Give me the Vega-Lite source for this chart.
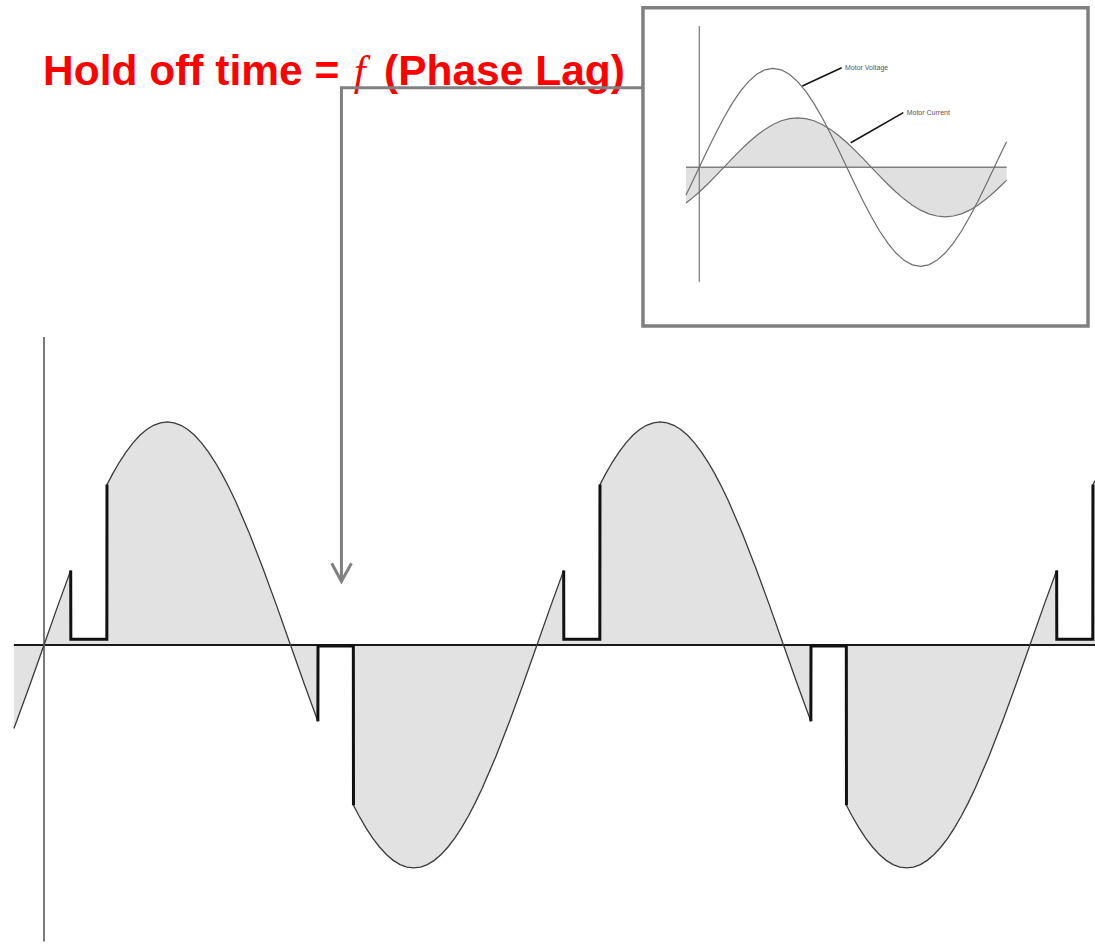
{
  "$schema": "https://vega.github.io/schema/vega-lite/v6.json",
  "width": 1095,
  "height": 948,
  "autosize": {"type": "none"},
  "padding": 0,
  "background": "white",
  "config": {"view": {"stroke": null}},
  "datasets": {
    "wave": [
      {"t":-22,"v":-0.375},{"t":-20,"v":-0.342},{"t":-10,"v":-0.174},{"t":0,"v":0},{"t":10,"v":0.174},{"t":19.5,"v":0.334},{"t":19.6,"v":0.025},{"t":45.9,"v":0.025},{"t":46,"v":0.719},{"t":50,"v":0.766},{"t":55,"v":0.819},{"t":60,"v":0.866},{"t":65,"v":0.906},{"t":70,"v":0.94},{"t":75,"v":0.966},{"t":80,"v":0.985},{"t":85,"v":0.996},{"t":90,"v":1},{"t":95,"v":0.996},{"t":100,"v":0.985},{"t":105,"v":0.966},{"t":110,"v":0.94},{"t":115,"v":0.906},{"t":120,"v":0.866},{"t":125,"v":0.819},{"t":130,"v":0.766},{"t":135,"v":0.707},{"t":140,"v":0.643},{"t":150,"v":0.5},{"t":160,"v":0.342},{"t":170,"v":0.174},{"t":180,"v":0},{"t":190,"v":-0.174},{"t":200,"v":-0.342},{"t":200.1,"v":-0.005},{"t":225.9,"v":-0.005},{"t":226,"v":-0.719},{"t":230,"v":-0.766},{"t":235,"v":-0.819},{"t":240,"v":-0.866},{"t":245,"v":-0.906},{"t":250,"v":-0.94},{"t":255,"v":-0.966},{"t":260,"v":-0.985},{"t":265,"v":-0.996},{"t":270,"v":-1},{"t":275,"v":-0.996},{"t":280,"v":-0.985},{"t":285,"v":-0.966},{"t":290,"v":-0.94},{"t":295,"v":-0.906},{"t":300,"v":-0.866},{"t":305,"v":-0.819},{"t":310,"v":-0.766},{"t":315,"v":-0.707},{"t":320,"v":-0.643},{"t":330,"v":-0.5},{"t":340,"v":-0.342},{"t":350,"v":-0.174},{"t":360,"v":0},{"t":370,"v":0.174},{"t":379.5,"v":0.334},{"t":379.6,"v":0.025},{"t":405.9,"v":0.025},{"t":406,"v":0.719},{"t":410,"v":0.766},{"t":415,"v":0.819},{"t":420,"v":0.866},{"t":425,"v":0.906},{"t":430,"v":0.94},{"t":435,"v":0.966},{"t":440,"v":0.985},{"t":445,"v":0.996},{"t":450,"v":1},{"t":455,"v":0.996},{"t":460,"v":0.985},{"t":465,"v":0.966},{"t":470,"v":0.94},{"t":475,"v":0.906},{"t":480,"v":0.866},{"t":485,"v":0.819},{"t":490,"v":0.766},{"t":495,"v":0.707},{"t":500,"v":0.643},{"t":510,"v":0.5},{"t":520,"v":0.342},{"t":530,"v":0.174},{"t":540,"v":0},{"t":550,"v":-0.174},{"t":560,"v":-0.342},{"t":560.1,"v":-0.005},{"t":585.9,"v":-0.005},{"t":586,"v":-0.719},{"t":590,"v":-0.766},{"t":595,"v":-0.819},{"t":600,"v":-0.866},{"t":605,"v":-0.906},{"t":610,"v":-0.94},{"t":615,"v":-0.966},{"t":620,"v":-0.985},{"t":625,"v":-0.996},{"t":630,"v":-1},{"t":635,"v":-0.996},{"t":640,"v":-0.985},{"t":645,"v":-0.966},{"t":650,"v":-0.94},{"t":655,"v":-0.906},{"t":660,"v":-0.866},{"t":665,"v":-0.819},{"t":670,"v":-0.766},{"t":675,"v":-0.707},{"t":680,"v":-0.643},{"t":690,"v":-0.5},{"t":700,"v":-0.342},{"t":710,"v":-0.174},{"t":720,"v":0},{"t":730,"v":0.174},{"t":739.5,"v":0.334},{"t":739.6,"v":0.025},{"t":765.9,"v":0.025},{"t":766,"v":0.719},{"t":767.5,"v":0.737}
    ],
    "notch": [
      {"t":19.5,"v":0.334,"n":"A"},{"t":19.6,"v":0.025,"n":"A"},{"t":45.9,"v":0.025,"n":"A"},{"t":46,"v":0.719,"n":"A"},
      {"t":200,"v":-0.342,"n":"B"},{"t":200.1,"v":-0.005,"n":"B"},{"t":225.9,"v":-0.005,"n":"B"},{"t":226,"v":-0.719,"n":"B"},
      {"t":379.5,"v":0.334,"n":"C"},{"t":379.6,"v":0.025,"n":"C"},{"t":405.9,"v":0.025,"n":"C"},{"t":406,"v":0.719,"n":"C"},
      {"t":560,"v":-0.342,"n":"D"},{"t":560.1,"v":-0.005,"n":"D"},{"t":585.9,"v":-0.005,"n":"D"},{"t":586,"v":-0.719,"n":"D"},
      {"t":739.5,"v":0.334,"n":"E"},{"t":739.6,"v":0.025,"n":"E"},{"t":765.9,"v":0.025,"n":"E"},{"t":766,"v":0.719,"n":"E"}
    ],
    "inset": [
      {"phi":-16.2,"w":-0.279,"s":"volt"},{"phi":-10,"w":-0.174,"s":"volt"},{"phi":0,"w":0,"s":"volt"},{"phi":10,"w":0.174,"s":"volt"},{"phi":20,"w":0.342,"s":"volt"},{"phi":30,"w":0.5,"s":"volt"},{"phi":40,"w":0.643,"s":"volt"},{"phi":50,"w":0.766,"s":"volt"},{"phi":60,"w":0.866,"s":"volt"},{"phi":70,"w":0.94,"s":"volt"},{"phi":80,"w":0.985,"s":"volt"},{"phi":90,"w":1,"s":"volt"},{"phi":100,"w":0.985,"s":"volt"},{"phi":110,"w":0.94,"s":"volt"},{"phi":120,"w":0.866,"s":"volt"},{"phi":130,"w":0.766,"s":"volt"},{"phi":140,"w":0.643,"s":"volt"},{"phi":150,"w":0.5,"s":"volt"},{"phi":160,"w":0.342,"s":"volt"},{"phi":170,"w":0.174,"s":"volt"},{"phi":180,"w":0,"s":"volt"},{"phi":190,"w":-0.174,"s":"volt"},{"phi":200,"w":-0.342,"s":"volt"},{"phi":210,"w":-0.5,"s":"volt"},{"phi":220,"w":-0.643,"s":"volt"},{"phi":230,"w":-0.766,"s":"volt"},{"phi":240,"w":-0.866,"s":"volt"},{"phi":250,"w":-0.94,"s":"volt"},{"phi":260,"w":-0.985,"s":"volt"},{"phi":270,"w":-1,"s":"volt"},{"phi":280,"w":-0.985,"s":"volt"},{"phi":290,"w":-0.94,"s":"volt"},{"phi":300,"w":-0.866,"s":"volt"},{"phi":310,"w":-0.766,"s":"volt"},{"phi":320,"w":-0.643,"s":"volt"},{"phi":330,"w":-0.5,"s":"volt"},{"phi":340,"w":-0.342,"s":"volt"},{"phi":350,"w":-0.174,"s":"volt"},{"phi":360,"w":0,"s":"volt"},{"phi":370,"w":0.174,"s":"volt"},{"phi":375.1,"w":0.259,"s":"volt"},
      {"phi":-16.2,"w":-0.361,"s":"cur"},{"phi":-10,"w":-0.321,"s":"cur"},{"phi":0,"w":-0.25,"s":"cur"},{"phi":10,"w":-0.171,"s":"cur"},{"phi":20,"w":-0.087,"s":"cur"},{"phi":30,"w":0,"s":"cur"},{"phi":40,"w":0.087,"s":"cur"},{"phi":50,"w":0.171,"s":"cur"},{"phi":60,"w":0.25,"s":"cur"},{"phi":70,"w":0.321,"s":"cur"},{"phi":80,"w":0.383,"s":"cur"},{"phi":90,"w":0.433,"s":"cur"},{"phi":100,"w":0.47,"s":"cur"},{"phi":110,"w":0.492,"s":"cur"},{"phi":120,"w":0.5,"s":"cur"},{"phi":130,"w":0.492,"s":"cur"},{"phi":140,"w":0.47,"s":"cur"},{"phi":150,"w":0.433,"s":"cur"},{"phi":160,"w":0.383,"s":"cur"},{"phi":170,"w":0.321,"s":"cur"},{"phi":180,"w":0.25,"s":"cur"},{"phi":190,"w":0.171,"s":"cur"},{"phi":200,"w":0.087,"s":"cur"},{"phi":210,"w":0,"s":"cur"},{"phi":220,"w":-0.087,"s":"cur"},{"phi":230,"w":-0.171,"s":"cur"},{"phi":240,"w":-0.25,"s":"cur"},{"phi":250,"w":-0.321,"s":"cur"},{"phi":260,"w":-0.383,"s":"cur"},{"phi":270,"w":-0.433,"s":"cur"},{"phi":280,"w":-0.47,"s":"cur"},{"phi":290,"w":-0.492,"s":"cur"},{"phi":300,"w":-0.5,"s":"cur"},{"phi":310,"w":-0.492,"s":"cur"},{"phi":320,"w":-0.47,"s":"cur"},{"phi":330,"w":-0.433,"s":"cur"},{"phi":340,"w":-0.383,"s":"cur"},{"phi":350,"w":-0.321,"s":"cur"},{"phi":360,"w":-0.25,"s":"cur"},{"phi":370,"w":-0.171,"s":"cur"},{"phi":375.1,"w":-0.129,"s":"cur"}
    ]
  },
  "layer": [
    {
      "encoding": {
        "x": {"field": "t", "type": "quantitative", "scale": {"domain": [-32.13, 767.5], "nice": false, "zero": false}, "axis": null},
        "y": {"field": "v", "type": "quantitative", "scale": {"domain": [-1.359, 2.892], "nice": false, "zero": false}, "axis": null}
      },
      "layer": [
        {
          "data": {"name": "wave"},
          "mark": {"type": "area", "color": "#e2e2e2", "interpolate": "linear"},
          "encoding": {"y2": {"datum": 0}}
        },
        {
          "data": {"values": [{"t": -22, "t2": 767.5, "v": 0, "v2": 0}]},
          "mark": {"type": "rule", "color": "#1a1a1a", "strokeWidth": 2},
          "encoding": {"x2": {"field": "t2"}, "y2": {"field": "v2"}}
        },
        {
          "data": {"values": [{"t": 0, "t2": 0, "v": 1.381, "v2": -1.33}]},
          "mark": {"type": "rule", "color": "#7a7a7a", "strokeWidth": 2},
          "encoding": {"x2": {"field": "t2"}, "y2": {"field": "v2"}}
        },
        {
          "data": {"name": "wave"},
          "mark": {"type": "line", "color": "#3a3a3a", "strokeWidth": 1.3, "interpolate": "linear"}
        },
        {
          "data": {"name": "notch"},
          "mark": {"type": "line", "color": "#111111", "strokeWidth": 3, "interpolate": "linear"},
          "encoding": {"detail": {"field": "n"}}
        },
        {
          "data": {"values": [{"t": -0.73, "v": 2.511, "label": "Hold off time ="}]},
          "mark": {"type": "text", "align": "left", "baseline": "alphabetic", "font": "Liberation Sans", "fontWeight": "bold", "fontSize": 42.5, "color": "#ff0000"},
          "encoding": {"text": {"field": "label"}}
        },
        {
          "data": {"values": [{"t": 230.6, "v": 2.511, "label": "f"}]},
          "mark": {"type": "text", "align": "center", "baseline": "alphabetic", "font": "Liberation Serif", "fontStyle": "italic", "fontSize": 42.5, "color": "#ff0000"},
          "encoding": {"text": {"field": "label"}}
        },
        {
          "data": {"values": [{"t": 248.3, "v": 2.511, "label": "(Phase Lag)"}]},
          "mark": {"type": "text", "align": "left", "baseline": "alphabetic", "font": "Liberation Sans", "fontWeight": "bold", "fontSize": 42.5, "color": "#ff0000"},
          "encoding": {"text": {"field": "label"}}
        },
        {
          "data": {"values": [{"t": 436.7, "v": 2.498, "i": 1}, {"t": 217.2, "v": 2.498, "i": 2}, {"t": 217.2, "v": 0.29, "i": 3}]},
          "mark": {"type": "line", "color": "#808080", "strokeWidth": 3, "strokeJoin": "miter"},
          "encoding": {"order": {"field": "i", "type": "quantitative"}}
        },
        {
          "data": {"values": [{"t": 210.1, "v": 0.366, "i": 1}, {"t": 217.2, "v": 0.285, "i": 2}, {"t": 224.5, "v": 0.366, "i": 3}]},
          "mark": {"type": "line", "color": "#808080", "strokeWidth": 3, "strokeJoin": "miter"},
          "encoding": {"order": {"field": "i", "type": "quantitative"}}
        },
        {
          "data": {"values": [{"t": 437.4, "t2": 762.4, "v": 2.857, "v2": 1.43}]},
          "mark": {"type": "rect", "fill": "white", "stroke": "#808080", "strokeWidth": 3.5},
          "encoding": {"x2": {"field": "t2"}, "y2": {"field": "v2"}}
        }
      ]
    },
    {
      "encoding": {
        "x": {"field": "phi", "type": "quantitative", "scale": {"domain": [-853.4, 482.9], "nice": false, "zero": false}, "axis": null},
        "y": {"field": "w", "type": "quantitative", "scale": {"domain": [-7.886, 1.69], "nice": false, "zero": false}, "axis": null}
      },
      "layer": [
        {
          "data": {"name": "inset"},
          "transform": [{"filter": "datum.s === 'cur'"}],
          "mark": {"type": "area", "color": "#e0e0e0", "interpolate": "linear"},
          "encoding": {"y2": {"datum": 0}}
        },
        {
          "data": {"values": [{"phi": -16.2, "phi2": 375.1, "w": 0, "w2": 0}]},
          "mark": {"type": "rule", "color": "#808080", "strokeWidth": 1.5},
          "encoding": {"x2": {"field": "phi2"}, "y2": {"field": "w2"}}
        },
        {
          "data": {"values": [{"phi": 0, "phi2": 0, "w": 1.427, "w2": -1.156}]},
          "mark": {"type": "rule", "color": "#808080", "strokeWidth": 1.3},
          "encoding": {"x2": {"field": "phi2"}, "y2": {"field": "w2"}}
        },
        {
          "data": {"name": "inset"},
          "mark": {"type": "line", "color": "#6e6e6e", "strokeWidth": 1.2, "interpolate": "linear"},
          "encoding": {"detail": {"field": "s"}}
        },
        {
          "data": {"values": [{"phi": 125.7, "w": 0.821, "k": "v"}, {"phi": 173.8, "w": 1.006, "k": "v"}, {"phi": 184.8, "w": 0.248, "k": "c"}, {"phi": 249, "w": 0.552, "k": "c"}]},
          "mark": {"type": "line", "color": "#111111", "strokeWidth": 1.5},
          "encoding": {"detail": {"field": "k"}}
        },
        {
          "data": {"values": [{"phi": 177.8, "w": 1.006, "label": "Motor Voltage"}, {"phi": 253.1, "w": 0.552, "label": "Motor Current"}]},
          "mark": {"type": "text", "align": "left", "baseline": "middle", "font": "Liberation Sans", "fontSize": 7, "color": "#555555"},
          "encoding": {"text": {"field": "label"}}
        }
      ]
    }
  ],
  "resolve": {"scale": {"x": "independent", "y": "independent"}}
}
